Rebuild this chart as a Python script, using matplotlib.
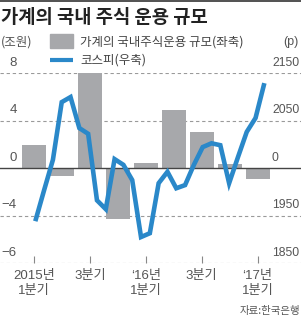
from __future__ import annotations

import matplotlib
matplotlib.use("Agg")
import matplotlib.pyplot as plt
import matplotlib.transforms as mtransforms
import numpy as np

# household domestic stock investment, trillion won, quarterly (2015 Q1 .. 2017 Q1)
quarters = np.arange(9)
household_stock = [1.9, -0.7, 8.0, -4.3, 0.4, 4.9, 3.0, 0.3, -0.95]

# KOSPI, monthly (2015.01 .. 2017.03)
months = np.arange(27)
kospi = [1916, 1965, 2013, 2104, 2112, 2063, 2054, 1949, 1935, 2014, 2005, 1981,
         1891, 1897, 1976, 1994, 1968, 1973, 2005, 2033, 2039, 2036, 1976, 2017,
         2057, 2079, 2134]

left_ticks = [8, 4, 0, -4, -8]
left_labels = ["8", "4", "0", "\u22124", "\u22126"]
right_ticks = [2150, 2075, 2000, 1925, 1850]
right_labels = ["2150", "2050", "0", "1950", "1850"]
xtick_pos = [0, 2, 4, 6, 8]
xtick_labels = ["2015년\n1분기", "3분기", "\u201816년\n1분기", "3분기", "\u201817년\n1분기"]

KR = ["Noto Sans CJK KR", "DejaVu Sans"]
NUM = ["Liberation Sans", "Noto Sans CJK KR", "DejaVu Sans"]
BAR_COLOR = "#a7a8ab"
LINE_COLOR = "#2a88c9"
TICK_COLOR = "#555555"

W, H = 301, 319
fig = plt.figure(figsize=(W / 100, H / 100), dpi=100)
fig.patch.set_facecolor("white")

# axes box: top gridline at y=73px, bottom gridline at y=263px, full width
rect = [0, (H - 263) / H, 1, 190 / H]
ax = fig.add_axes(rect)
ax.set_xlim(-34 / 27.94, (W - 34) / 27.94)
ax.set_ylim(-8, 8)
for s in ax.spines.values():
    s.set_visible(False)
ax.patch.set_alpha(0)

ax.bar(quarters, household_stock, width=0.86, color=BAR_COLOR, zorder=2)

for v in left_ticks:
    if v == 0:
        ax.axhline(0, color="#444444", lw=1.0, zorder=3)
    else:
        ax.axhline(v, color="#9a9a9a", lw=0.8, ls=(0, (3, 2.5)), zorder=1)

ax.set_yticks([])
ax.set_xticks(xtick_pos)
ax.set_xticklabels(xtick_labels, family=NUM, fontsize=9.5, color=TICK_COLOR, linespacing=1.3)
ax.tick_params(axis="x", direction="in", length=5, width=0.8, color="#888888", pad=5)

# left axis labels sit above their gridlines
off = mtransforms.offset_copy(ax.transData, fig=fig, x=0, y=3, units="points")
lt = mtransforms.blended_transform_factory(fig.transFigure, off)
for v, lab in zip(left_ticks, left_labels):
    ax.text(17 / W, v, lab, transform=lt, ha="right", va="bottom",
            family=NUM, fontsize=9.5, color=TICK_COLOR)

# KOSPI line on its own axes with monthly x scale
lx = fig.add_axes(rect)
lx.set_xlim(-35.3 / 8.81, (W - 35.3) / 8.81)
lx.set_ylim(1850, 2150)
lx.axis("off")
lx.plot(months, kospi, color=LINE_COLOR, lw=3.3, solid_joinstyle="miter",
        solid_capstyle="butt", zorder=4)

off2 = mtransforms.offset_copy(lx.transData, fig=fig, x=0, y=3, units="points")
rt = mtransforms.blended_transform_factory(fig.transFigure, off2)
for v, lab in zip(right_ticks, right_labels):
    lx.text(272 / W, v, lab, transform=rt, ha="left", va="bottom",
            family=NUM, fontsize=8.7, color=TICK_COLOR)

# title, legend and notes
fig.add_artist(plt.Line2D([0, 1], [1 - 0.5 / H, 1 - 0.5 / H], color="#333333", lw=1.2))
fig.text(1 / W, 1 - 17.5 / H, "가계의 국내 주식 운용 규모", family=KR, fontsize=13.5,
         fontweight="bold", ha="left", va="center", color="#222222")
fig.text(1 / W, 1 - 42 / H, "(조원)", family=KR, fontsize=9, ha="left", va="center",
         color=TICK_COLOR)
fig.text(299 / W, 1 - 42 / H, "(p)", family=NUM, fontsize=9, ha="right", va="center",
         color=TICK_COLOR)
fig.add_artist(plt.Rectangle((50 / W, 1 - 48 / H), 23 / W, 14 / H, color=BAR_COLOR,
                             transform=fig.transFigure))
fig.add_artist(plt.Line2D([50 / W, 73 / W], [1 - 60 / H, 1 - 60 / H], color=LINE_COLOR,
                          lw=3.0, solid_capstyle="butt"))
fig.text(80 / W, 1 - 42 / H, "가계의 국내주식운용 규모(좌축)", family=KR, fontsize=9,
         ha="left", va="center", color="#444444")
fig.text(80 / W, 1 - 60 / H, "코스피(우축)", family=KR, fontsize=9, ha="left",
         va="center", color="#444444")
fig.text(300 / W, 1 - 311 / H, "자료:한국은행", family=KR, fontsize=7.5, ha="right",
         va="center", color=TICK_COLOR)

fig.savefig("out.png", dpi=100)
plt.close(fig)
